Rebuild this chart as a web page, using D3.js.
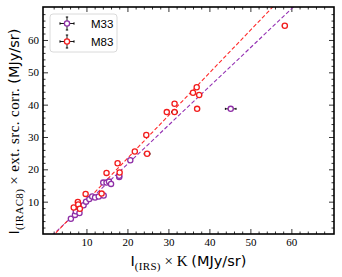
<!DOCTYPE html>
<html>
<head>
<meta charset="utf-8">
<script src="https://cdn.jsdelivr.net/npm/d3@7"></script>
<style>
  body { margin: 0; background: #fff; }
  .tick text { font-family: "Liberation Serif", serif; font-size: 11px; fill: #000; }
  .axis path.domain { display: none; }
  .axis line { stroke: #000; stroke-width: 0.8; }
</style>
</head>
<body>
<svg id="chart"></svg>
<script>
// M33 points
const m33X = [6.2, 7.2, 7.4, 8.3, 9.3, 9.9, 10.7, 11.4, 12.1, 13.0, 14.2, 14.1, 14.9, 15.5, 16.0, 18.0, 18.0, 20.7, 45.2];
const m33Y = [4.7, 5.9, 7.0, 6.5, 8.9, 10.0, 10.8, 11.6, 11.3, 11.6, 11.9, 15.9, 15.9, 16.2, 15.5, 17.6, 18.0, 22.8, 38.7];
const m33Xerr = [0.2, 0.2, 0.2, 0.2, 0.2, 0.2, 0.2, 0.2, 0.2, 0.2, 0.2, 0.2, 0.2, 0.2, 0.2, 0.3, 0.3, 0.3, 1.3];

// M83 points
const m83X = [6.9, 7.9, 8.0, 8.4, 9.8, 13.7, 14.9, 17.6, 18.1, 21.8, 24.6, 24.8, 29.6, 31.5, 31.5, 36.0, 36.9, 37.5, 37.0, 58.4];
const m83Y = [8.2, 9.9, 9.1, 7.8, 12.4, 12.5, 18.9, 21.9, 19.0, 25.5, 30.6, 24.8, 37.7, 37.7, 40.3, 43.7, 45.4, 43.0, 38.7, 64.4];
const m83Xerr = [0.2, 0.2, 0.2, 0.2, 0.2, 0.2, 0.2, 0.2, 0.3, 0.2, 0.2, 0.7, 0.3, 0.7, 0.3, 0.3, 0.3, 0.6, 0.6, 0.6];

// linear fits [slope, intercept]
const fitM33 = [1.20, -2.4];
const fitM83 = [1.32, -3.0];

const xTicks = [10, 20, 30, 40, 50, 60];
const yTicks = [10, 20, 30, 40, 50, 60];

class FitScatter {

  constructor(_config) {
    this.config = {
      parentElement: _config.parentElement,
      containerWidth: _config.containerWidth || 342,
      containerHeight: _config.containerHeight || 277,
      margin: _config.margin || {top: 7, right: 8, bottom: 43, left: 43}
    };
    this.initVis();
  }

  initVis() {
    let vis = this;

    vis.width = vis.config.containerWidth - vis.config.margin.left - vis.config.margin.right;
    vis.height = vis.config.containerHeight - vis.config.margin.top - vis.config.margin.bottom;

    vis.xScale = d3.scaleLinear()
        .domain([-0.6, 70.4])
        .range([0, vis.width]);

    vis.yScale = d3.scaleLinear()
        .domain([0, 70.2])
        .range([vis.height, 0]);

    vis.svg = d3.select(vis.config.parentElement)
        .attr('width', vis.config.containerWidth)
        .attr('height', vis.config.containerHeight);

    vis.chart = vis.svg.append('g')
        .attr('transform', `translate(${vis.config.margin.left},${vis.config.margin.top})`);

    vis.svg.append('defs').append('clipPath')
        .attr('id', 'plot-clip')
      .append('rect')
        .attr('width', vis.width)
        .attr('height', vis.height);

    // minor ticks every 2
    vis.xMinor = d3.range(2, 70, 2).filter(v => v % 10 !== 0);
    vis.yMinor = d3.range(2, 70, 2).filter(v => v % 10 !== 0);
  }

  renderVis() {
    let vis = this;
    const major = 5, minor = 2.5;

    const axes = [
      {ax: d3.axisBottom, s: vis.xScale, t: `translate(0,${vis.height})`, lab: true, vals: xTicks, mv: vis.xMinor},
      {ax: d3.axisTop, s: vis.xScale, t: 'translate(0,0)', lab: false, vals: xTicks, mv: vis.xMinor},
      {ax: d3.axisLeft, s: vis.yScale, t: 'translate(0,0)', lab: true, vals: yTicks, mv: vis.yMinor},
      {ax: d3.axisRight, s: vis.yScale, t: `translate(${vis.width},0)`, lab: false, vals: yTicks, mv: vis.yMinor}
    ];

    axes.forEach(a => {
      vis.chart.append('g')
          .attr('class', 'axis')
          .attr('transform', a.t)
          .call(a.ax(a.s).tickValues(a.vals).tickSize(-major).tickPadding(4)
            .tickFormat(a.lab ? d3.format('d') : ''));
      vis.chart.append('g')
          .attr('class', 'axis')
          .attr('transform', a.t)
          .call(a.ax(a.s).tickValues(a.mv).tickSize(-minor).tickFormat(''));
    });

    // fit lines
    const lineG = vis.chart.append('g').attr('clip-path', 'url(#plot-clip)');
    const x0 = vis.xScale.domain()[0], x1 = vis.xScale.domain()[1];
    [[fitM33, '#9431b3'], [fitM83, '#ff2a2a']].forEach(([f, c]) => {
      lineG.append('line')
          .attr('x1', vis.xScale(x0))
          .attr('y1', vis.yScale(f[0] * x0 + f[1]))
          .attr('x2', vis.xScale(x1))
          .attr('y2', vis.yScale(f[0] * x1 + f[1]))
          .attr('stroke', c)
          .attr('stroke-width', 1.1)
          .attr('stroke-dasharray', '4,2.2');
    });

    const series = [
      {x: m33X, y: m33Y, e: m33Xerr, c: '#8e2ea6'},
      {x: m83X, y: m83Y, e: m83Xerr, c: '#f21c1c'}
    ];

    series.forEach(s => {
      const pts = s.x.map((v, i) => ({x: v, y: s.y[i], e: s.e[i]}));
      const g = vis.chart.append('g');
      pts.forEach(d => {
        const cy = vis.yScale(d.y);
        const xa = vis.xScale(d.x - d.e), xb = vis.xScale(d.x + d.e);
        g.append('line')
            .attr('x1', xa).attr('x2', xb).attr('y1', cy).attr('y2', cy)
            .attr('stroke', '#000').attr('stroke-width', 1);
        [xa, xb].forEach(xx => g.append('line')
            .attr('x1', xx).attr('x2', xx).attr('y1', cy - 1).attr('y2', cy + 1)
            .attr('stroke', '#000').attr('stroke-width', 1));
      });
      g.selectAll('.point')
          .data(pts)
          .enter()
        .append('circle')
          .attr('class', 'point')
          .attr('cx', d => vis.xScale(d.x))
          .attr('cy', d => vis.yScale(d.y))
          .attr('r', 2.6)
          .attr('fill', '#fff')
          .attr('stroke', s.c)
          .attr('stroke-width', 1.3);
    });

    // frame
    vis.chart.append('rect')
        .attr('width', vis.width)
        .attr('height', vis.height)
        .attr('fill', 'none')
        .attr('stroke', '#000')
        .attr('stroke-width', 1.6);

    // legend
    const leg = vis.chart.append('g').attr('transform', 'translate(7,7)');
    leg.append('rect')
        .attr('width', 67)
        .attr('height', 38)
        .attr('rx', 3)
        .attr('fill', '#fff')
        .attr('fill-opacity', 0.8)
        .attr('stroke', '#d0d0d0')
        .attr('stroke-width', 0.8);
    [['M33', series[0].c], ['M83', series[1].c]].forEach(([name, c], i) => {
      const ly = 9.5 + i * 18, lx = 17;
      const e = leg.append('g');
      e.append('line').attr('x1', lx - 7).attr('x2', lx + 7).attr('y1', ly).attr('y2', ly)
          .attr('stroke', '#000').attr('stroke-width', 0.9);
      e.append('line').attr('x1', lx).attr('x2', lx).attr('y1', ly - 6.5).attr('y2', ly + 6.5)
          .attr('stroke', '#000').attr('stroke-width', 0.9);
      [[lx - 7, ly, 'v'], [lx + 7, ly, 'v'], [lx, ly - 6.5, 'h'], [lx, ly + 6.5, 'h']].forEach(([cx, cy, o]) => {
        e.append('line')
            .attr('x1', o === 'v' ? cx : cx - 1.2).attr('x2', o === 'v' ? cx : cx + 1.2)
            .attr('y1', o === 'v' ? cy - 1.2 : cy).attr('y2', o === 'v' ? cy + 1.2 : cy)
            .attr('stroke', '#000').attr('stroke-width', 1);
      });
      e.append('circle').attr('cx', lx).attr('cy', ly).attr('r', 2.6)
          .attr('fill', '#fff').attr('stroke', c).attr('stroke-width', 1.3);
      leg.append('text')
          .attr('x', 41)
          .attr('y', ly + 4)
          .style('font-family', '"Liberation Sans", Arial, sans-serif')
          .style('font-size', '11.5px')
          .text(name);
    });

    // x axis title
    const xt = vis.svg.append('text')
        .attr('x', vis.config.margin.left + vis.width / 2)
        .attr('y', 266)
        .attr('text-anchor', 'middle')
        .style('font-size', '14.5px');
    xt.append('tspan').style('font-family', '"DejaVu Sans", sans-serif').text('I');
    xt.append('tspan').attr('dy', 4).style('font-family', '"Liberation Serif", serif').style('font-size', '11px').style('letter-spacing', '0.3px').text('(IRS)');
    xt.append('tspan').attr('dy', -4).style('font-family', '"Liberation Serif", serif').style('font-size', '15px').text(' × K ');
    xt.append('tspan').style('font-family', '"DejaVu Sans", sans-serif').text('(MJy/sr)');

    // y axis title
    const yt = vis.svg.append('text')
        .attr('transform', `translate(19,${vis.config.margin.top + vis.height / 2 + 11}) rotate(-90)`)
        .attr('text-anchor', 'middle')
        .style('font-size', '14.5px');
    yt.append('tspan').style('font-family', '"DejaVu Sans", sans-serif').text('I');
    yt.append('tspan').attr('dy', 4).style('font-family', '"Liberation Serif", serif').style('font-size', '11px').style('letter-spacing', '0.3px').text('(IRAC8)');
    yt.append('tspan').attr('dy', -4).style('font-family', '"Liberation Serif", serif').style('font-size', '15px').style('letter-spacing', '0.4px').text(' × ext. src. corr. ');
    yt.append('tspan').style('font-family', '"DejaVu Sans", sans-serif').text('(MJy/sr)');
  }
}

const chart = new FitScatter({parentElement: '#chart'});
chart.renderVis();
</script>
</body>
</html>
